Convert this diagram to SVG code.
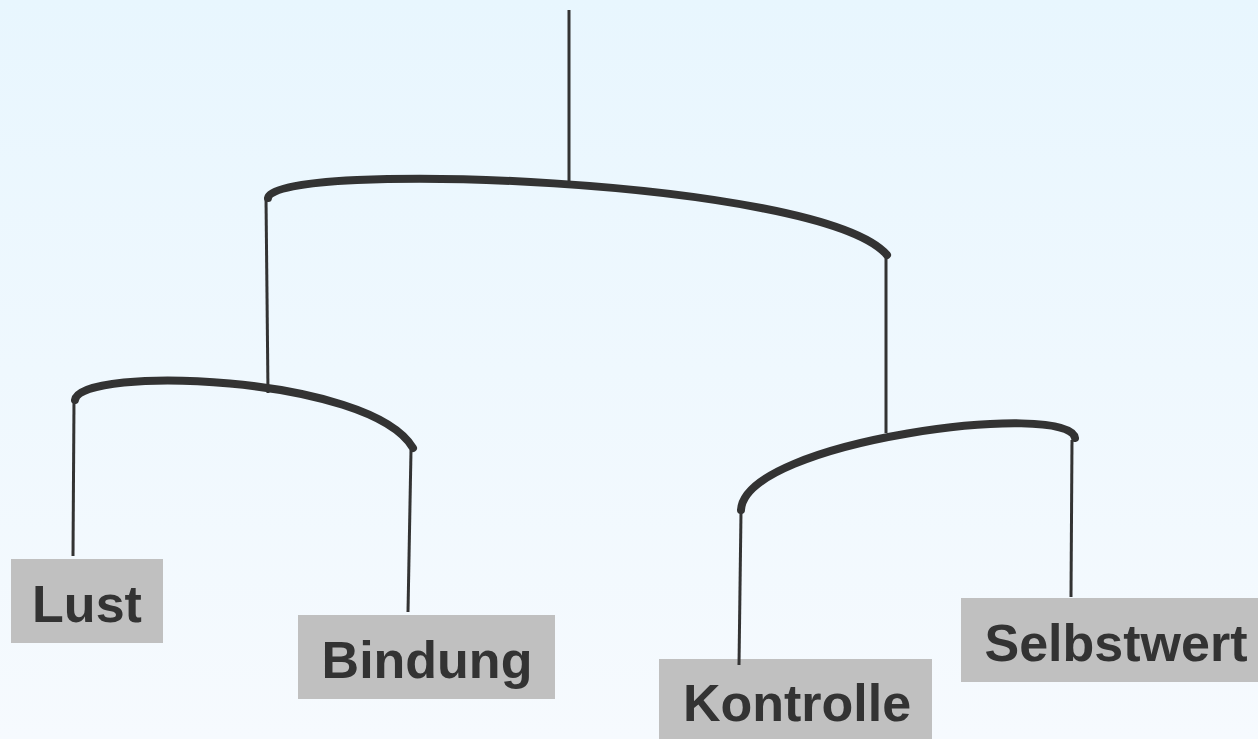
<svg xmlns="http://www.w3.org/2000/svg" width="1258" height="739" viewBox="0 0 1258 739">
<defs>
<linearGradient id="bg" x1="0" y1="0" x2="0" y2="1">
<stop offset="0" stop-color="#e8f6fe"/>
<stop offset="1" stop-color="#f6fafe"/>
</linearGradient>
<style>
.bar{fill:none;stroke:#333333;stroke-width:8;stroke-linecap:round}
.str{fill:none;stroke:#333333;stroke-width:3}
.box{fill:#c0c0c0}
.lbl{font-family:"Liberation Sans",Arial,sans-serif;font-weight:bold;font-size:52px;fill:#333333;text-anchor:middle}
</style>
</defs>
<rect width="1258" height="739" fill="url(#bg)"/>
<g id="lust">
<rect class="box" x="11" y="559" width="152" height="84"/>
<text class="lbl" x="87" y="622">Lust</text>
</g>
<g id="bindung">
<rect class="box" x="298" y="615" width="257" height="84"/>
<text class="lbl" x="427" y="678">Bindung</text>
</g>
<g id="kontrolle">
<rect class="box" x="659" y="659" width="273" height="84"/>
<text class="lbl" x="797" y="721">Kontrolle</text>
</g>
<g id="selbstwert">
<rect class="box" x="961" y="598" width="297" height="84"/>
<text class="lbl" x="1116" y="661">Selbstwert</text>
</g>
<g id="connectors">
<line class="str" x1="569" y1="10" x2="569" y2="183"/>
<path class="bar" d="M268,198 C272,160 820,178 887,255"/>
<line class="str" x1="266" y1="198" x2="268" y2="393"/>
<line class="str" x1="886" y1="258" x2="886" y2="433"/>
<path class="bar" d="M75,400 C80,365 370,375 413,448"/>
<path class="bar" d="M741,510 C745,440 1070,400 1075,438"/>
<line class="str" x1="74" y1="400" x2="73" y2="556"/>
<line class="str" x1="411" y1="450" x2="408" y2="612"/>
<line class="str" x1="741" y1="512" x2="739" y2="665"/>
<line class="str" x1="1072" y1="440" x2="1071" y2="597"/>
</g>
</svg>
